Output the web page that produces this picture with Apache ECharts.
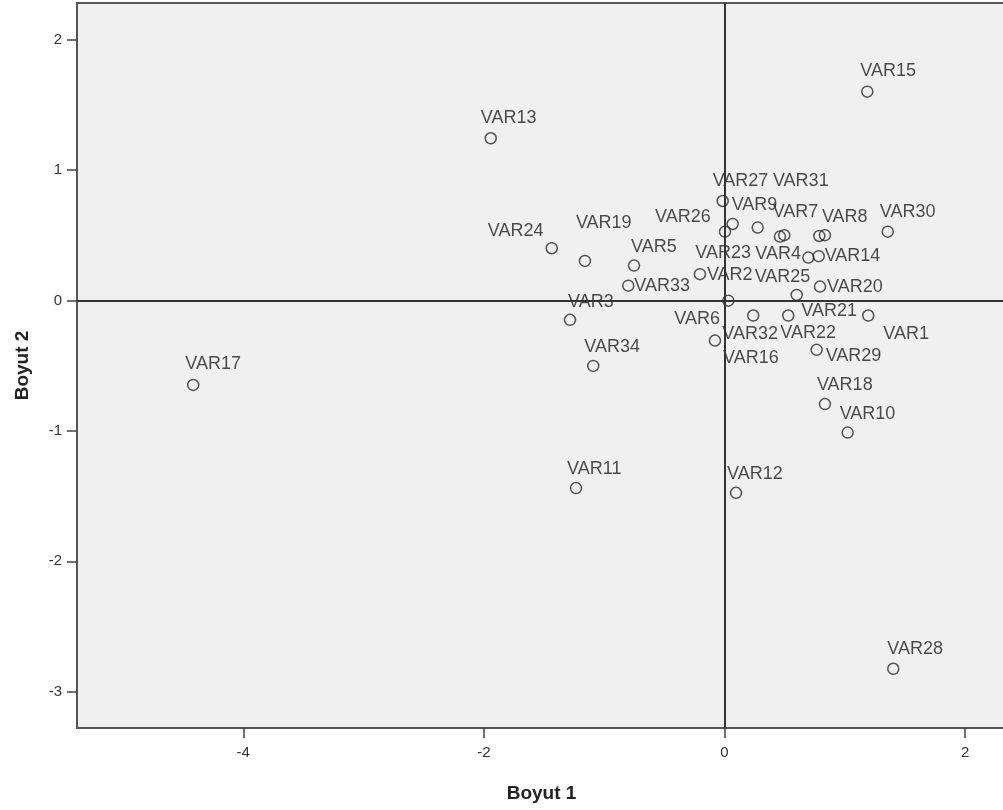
<!DOCTYPE html>
<html>
<head>
<meta charset="utf-8">
<title>Boyut 1 / Boyut 2</title>
<script src="https://cdn.jsdelivr.net/npm/echarts@6/dist/echarts.min.js"></script>
<style>
  html, body { margin: 0; padding: 0; background: #ffffff; }
  #chart { width: 1003px; height: 810px; }
</style>
</head>
<body>
<div id="chart"></div>
<script>
// Object coordinates on the two dimensions
const names = ['VAR15','VAR13','VAR27','VAR9','VAR26','VAR7','VAR31','VAR23','VAR22','VAR8',
               'VAR30','VAR24','VAR19','VAR5','VAR4','VAR14','VAR2','VAR33','VAR25','VAR20',
               'VAR6','VAR3','VAR32','VAR21','VAR1','VAR16','VAR34','VAR29','VAR17','VAR18',
               'VAR10','VAR11','VAR12','VAR28'];
const dim1 = [1.187,-1.943,-0.015,0.068,0.004,0.276,0.461,0.497,0.788,0.835,
              1.357,-1.436,-1.160,-0.752,0.697,0.783,-0.204,-0.800,0.600,0.794,
              0.032,-1.284,0.239,0.530,1.195,-0.079,-1.091,0.766,-4.416,0.835,
              1.024,-1.234,0.096,1.403];
const dim2 = [1.600,1.243,0.762,0.586,0.527,0.558,0.489,0.500,0.494,0.500,
              0.527,0.400,0.303,0.267,0.328,0.339,0.201,0.113,0.042,0.106,
              -0.002,-0.149,-0.116,-0.116,-0.116,-0.308,-0.502,-0.379,-0.648,-0.795,
              -1.013,-1.439,-1.475,-2.824];

// Axis tick values
const xTicks = [-4, -2, 0, 2];
const yTicks = [-3, -2, -1, 0, 1, 2];

// Label placement (pixel shift from the point) so crowded labels do not collide
const labelShift = {
  VAR15:[-7,-21], VAR13:[-10,-20], VAR27:[-10,-20], VAR9:[-1,-19], VAR26:[-70,-15],
  VAR7:[15,-16], VAR31:[-7,-56], VAR23:[-89,18], VAR22:[-39,97], VAR8:[-3,-18],
  VAR30:[-8,-20], VAR24:[-64,-17], VAR19:[-9,-38], VAR5:[-3,-19], VAR4:[-53,-4],
  VAR14:[6,0], VAR2:[7,1], VAR33:[6,0], VAR25:[-42,-18], VAR20:[7,0],
  VAR6:[-54,18], VAR3:[-2,-18], VAR32:[-31,18], VAR21:[13,-5], VAR1:[15,18],
  VAR16:[8,17], VAR34:[-9,-19], VAR29:[9,6], VAR17:[-8,-21], VAR18:[-8,-19],
  VAR10:[-8,-19], VAR11:[-9,-19], VAR12:[-9,-19], VAR28:[-6,-20]
};

const points = names.map((n, i) => ({
  name: n,
  value: [dim1[i], dim2[i]],
  label: { offset: labelShift[n] || [0, -20] }
}));

const chart = echarts.init(document.getElementById('chart'), null, { renderer: 'canvas' });

const tickFont = {
  fontFamily: '"Liberation Sans Narrow", "Liberation Sans", Arial, sans-serif',
  fontSize: 15,
  color: '#333333'
};

chart.setOption({
  animation: false,
  backgroundColor: '#ffffff',
  grid: {
    left: 77, top: 3, width: 929, height: 725,
    containLabel: false,
    outerBoundsMode: 'none',
    show: true,
    backgroundColor: '#f0f0f0',
    borderColor: '#555555',
    borderWidth: 2
  },
  xAxis: {
    type: 'value',
    min: -5.382, max: 2.340,
    name: 'Boyut 1',
    nameLocation: 'middle',
    nameGap: 56,
    nameTextStyle: { fontFamily: '"Liberation Sans", Arial, sans-serif', fontWeight: 'bold', fontSize: 19, color: '#222222' },
    axisLine: { show: true, onZero: false, lineStyle: { color: '#555555', width: 2 } },
    axisTick: { show: true, inside: false, length: 10, customValues: xTicks, lineStyle: { color: '#444444', width: 1.5 } },
    axisLabel: Object.assign({ margin: 17, customValues: xTicks, formatter: v => String(v) }, tickFont),
    splitLine: { show: false }
  },
  yAxis: {
    type: 'value',
    min: -3.278, max: 2.280,
    name: 'Boyut 2',
    nameLocation: 'middle',
    nameGap: 45,
    nameTextStyle: { fontFamily: '"Liberation Sans", Arial, sans-serif', fontWeight: 'bold', fontSize: 19, color: '#222222' },
    axisLine: { show: true, onZero: false, lineStyle: { color: '#555555', width: 2 } },
    axisTick: { show: true, inside: false, length: 10, customValues: yTicks, lineStyle: { color: '#444444', width: 1.5 } },
    axisLabel: Object.assign({ margin: 15, customValues: yTicks, formatter: v => String(v) }, tickFont),
    splitLine: { show: false }
  },
  series: [{
    type: 'scatter',
    data: points,
    symbol: 'circle',
    symbolSize: 11,
    itemStyle: { color: 'rgba(0,0,0,0)', borderColor: '#2b2b2b', borderWidth: 1.5 },
    label: {
      show: true,
      position: 'inside',
      align: 'left',
      verticalAlign: 'middle',
      formatter: p => p.name,
      fontFamily: '"Liberation Sans", Arial, sans-serif',
      fontSize: 18,
      color: '#1e1e1e'
    },
    emphasis: { disabled: true },
    markLine: {
      silent: true,
      symbol: 'none',
      label: { show: false },
      lineStyle: { color: '#333333', width: 2, type: 'solid' },
      data: [{ xAxis: 0 }, { yAxis: 0 }]
    }
  }]
});
</script>
</body>
</html>
